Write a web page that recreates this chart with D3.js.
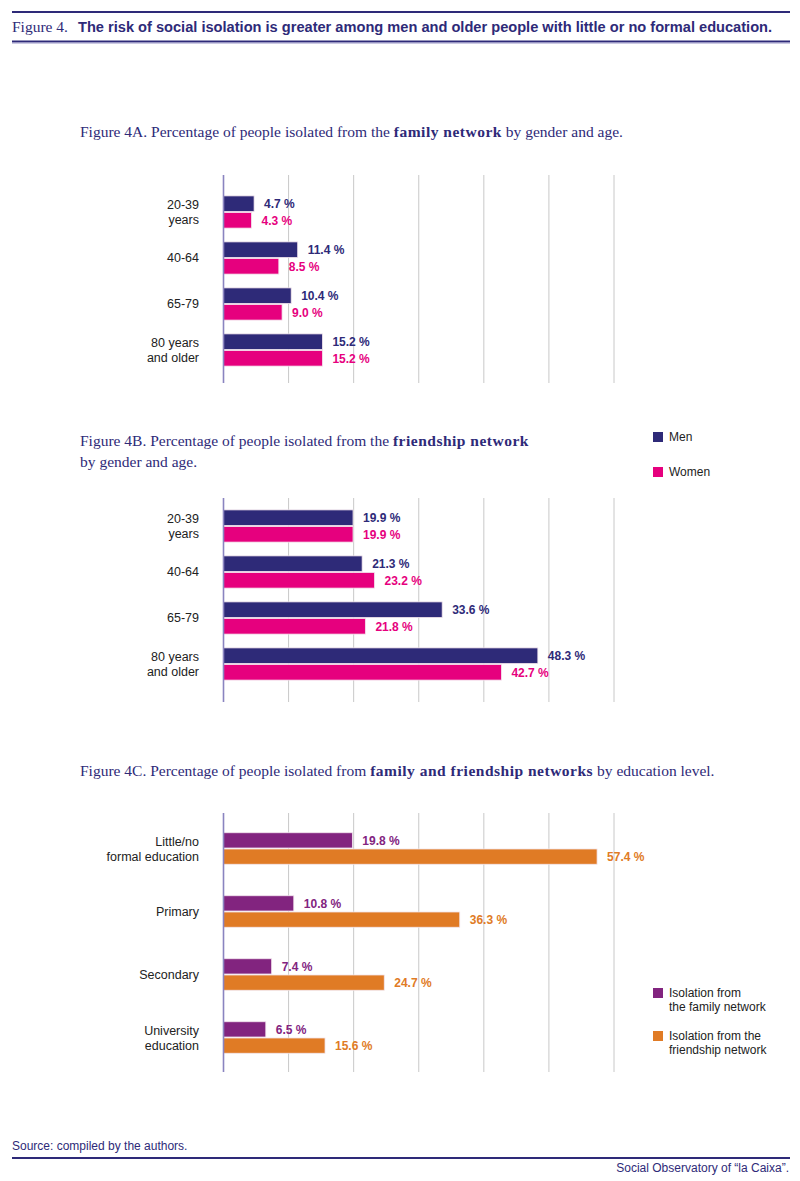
<!DOCTYPE html>
<html>
<head>
<meta charset="utf-8">
<script src="https://cdn.jsdelivr.net/npm/d3@7"></script>
<style>
  body { margin: 0; background: #fff; }
  svg { display: block; }
</style>
</head>
<body>
<script>
// data
var ageGroups = [["20-39", "years"], ["40-64"], ["65-79"], ["80 years", "and older"]];
var familyMen = [4.7, 11.4, 10.4, 15.2];
var familyWomen = [4.3, 8.5, 9.0, 15.2];
var friendMen = [19.9, 21.3, 33.6, 48.3];
var friendWomen = [19.9, 23.2, 21.8, 42.7];
var eduLevels = [["Little/no", "formal education"], ["Primary"], ["Secondary"], ["University", "education"]];
var eduFamily = [19.8, 10.8, 7.4, 6.5];
var eduFriend = [57.4, 36.3, 24.7, 15.6];
var xTicks = [10, 20, 30, 40, 50, 60];

var navy = "#2e2a78", pink = "#e6007e", plum = "#82247f", orange = "#e07b25";
var sans = "'Liberation Sans', Arial, sans-serif";
var serif = "'Liberation Serif', 'Times New Roman', serif";

var W = 800, H = 1181;
var svg = d3.select("body").append("svg").attr("width", W).attr("height", H);

var x = d3.scaleLinear().domain([0, 60]).range([223.5, 614]);

// header
svg.append("line").attr("x1", 12).attr("x2", 790).attr("y1", 12).attr("y2", 12)
  .attr("stroke", navy).attr("stroke-width", 2);
svg.append("line").attr("x1", 12).attr("x2", 790).attr("y1", 41.5).attr("y2", 41.5)
  .attr("stroke", navy).attr("stroke-width", 2);
svg.append("line").attr("x1", 12).attr("x2", 790).attr("y1", 43).attr("y2", 43)
  .attr("stroke", "#9a96c8").attr("stroke-width", 1);
svg.append("text").attr("x", 12).attr("y", 32).attr("fill", navy)
  .style("font-family", serif).style("font-size", "15.5px").text("Figure 4.");
var head = svg.append("text").attr("x", 78).attr("y", 32).attr("fill", navy)
  .style("font-family", sans).style("font-weight", "bold").style("font-size", "13px")
  .text("The risk of social isolation is greater among men and older people with little or no formal education.");
var hl = head.node().getComputedTextLength();
head.style("font-size", (13 * 694 / hl).toFixed(2) + "px");

function title(y, parts) {
  var t = svg.append("text").attr("x", 80).attr("y", y).attr("fill", navy)
    .style("font-family", serif).style("font-size", "15.5px");
  parts.forEach(function(p) {
    t.append("tspan").style("font-weight", p[1] ? "bold" : "normal")
      .style("letter-spacing", p[1] ? "0.5px" : "0px").text(p[0]);
  });
}

function chart(opt) {
  var g = svg.append("g");
  // grid
  g.selectAll(".grid").data(xTicks).enter().append("line")
    .attr("x1", d => x(d)).attr("x2", d => x(d))
    .attr("y1", opt.top).attr("y2", opt.bottom)
    .attr("stroke", "#c8c8c8").attr("stroke-width", 1);

  var y = d3.scaleBand().domain(d3.range(opt.cats.length))
    .range(opt.band).paddingInner(opt.pi).paddingOuter(opt.po);
  var ys = d3.scaleBand().domain([0, 1]).range([0, y.bandwidth()]).paddingInner(0.06);

  var rows = opt.cats.map(function(c, i) {
    return { i: i, cat: c, vals: [opt.a[i], opt.b[i]] };
  });
  var grp = g.selectAll(".grp").data(rows).enter().append("g")
    .attr("transform", d => "translate(0," + y(d.i) + ")");

  grp.selectAll("rect").data(d => d.vals).enter().append("rect")
    .attr("x", x(0)).attr("y", (d, j) => ys(j))
    .attr("width", d => x(d) - x(0)).attr("height", ys.bandwidth())
    .attr("fill", (d, j) => opt.colors[j])
    .attr("stroke", "#f3e6ee").attr("stroke-width", 0.8);

  grp.selectAll(".val").data(d => d.vals).enter().append("text")
    .attr("x", d => x(d) + 10).attr("y", (d, j) => ys(j) + ys.bandwidth() / 2 + 4.5)
    .attr("fill", (d, j) => opt.colors[j])
    .style("font-family", sans).style("font-weight", "bold").style("font-size", "12px")
    .text(d => d.toFixed(1) + " %");

  grp.each(function(d) {
    var n = d.cat.length, mid = y.bandwidth() / 2;
    var t = d3.select(this).append("text").attr("text-anchor", "end")
      .attr("fill", "#222").style("font-family", sans).style("font-size", "12.5px");
    d.cat.forEach(function(line, k) {
      t.append("tspan").attr("x", 199)
        .attr("y", mid + 4.5 + (k - (n - 1) / 2) * 15).text(line);
    });
  });

  // axis line
  g.append("line").attr("x1", x(0)).attr("x2", x(0))
    .attr("y1", opt.top).attr("y2", opt.bottom)
    .attr("stroke", "#8a84c0").attr("stroke-width", 1.6);
}

function legend(items) {
  items.forEach(function(it) {
    svg.append("rect").attr("x", 653).attr("y", it.y - 9).attr("width", 10).attr("height", 10)
      .attr("fill", it.color);
    var t = svg.append("text").attr("fill", "#222")
      .style("font-family", sans).style("font-size", "12px");
    it.lines.forEach(function(l, k) {
      t.append("tspan").attr("x", 669).attr("y", it.y + k * 14).text(l);
    });
  });
}

// 4A
title(137, [["Figure 4A. Percentage of people isolated from the "], ["family network", 1], [" by gender and age."]]);
chart({ cats: ageGroups, a: familyMen, b: familyWomen, colors: [navy, pink],
  top: 175, bottom: 383, band: [189, 373], pi: 0.3, po: 0.15 });

// 4B
title(446, [["Figure 4B. Percentage of people isolated from the "], ["friendship network", 1]]);
title(467, [["by gender and age."]]);
legend([{ y: 441, color: navy, lines: ["Men"] }, { y: 476, color: pink, lines: ["Women"] }]);
chart({ cats: ageGroups, a: friendMen, b: friendWomen, colors: [navy, pink],
  top: 498, bottom: 702, band: [503, 687], pi: 0.3, po: 0.15 });

// 4C
title(776, [["Figure 4C. Percentage of people isolated from "], ["family and friendship networks", 1], [" by education level."]]);
chart({ cats: eduLevels, a: eduFamily, b: eduFriend, colors: [plum, orange],
  top: 813, bottom: 1072, band: [817, 1069], pi: 0.5, po: 0.25 });
legend([{ y: 997, color: plum, lines: ["Isolation from", "the family network"] },
        { y: 1040, color: orange, lines: ["Isolation from the", "friendship network"] }]);

// footer
svg.append("text").attr("x", 12).attr("y", 1150).attr("fill", navy)
  .style("font-family", sans).style("font-size", "12px").text("Source: compiled by the authors.");
svg.append("line").attr("x1", 12).attr("x2", 790).attr("y1", 1158).attr("y2", 1158)
  .attr("stroke", navy).attr("stroke-width", 2);
svg.append("text").attr("x", 789).attr("y", 1172).attr("text-anchor", "end").attr("fill", navy)
  .style("font-family", sans).style("font-size", "12px").text("Social Observatory of \u201cla Caixa\u201d.");
</script>
</body>
</html>
